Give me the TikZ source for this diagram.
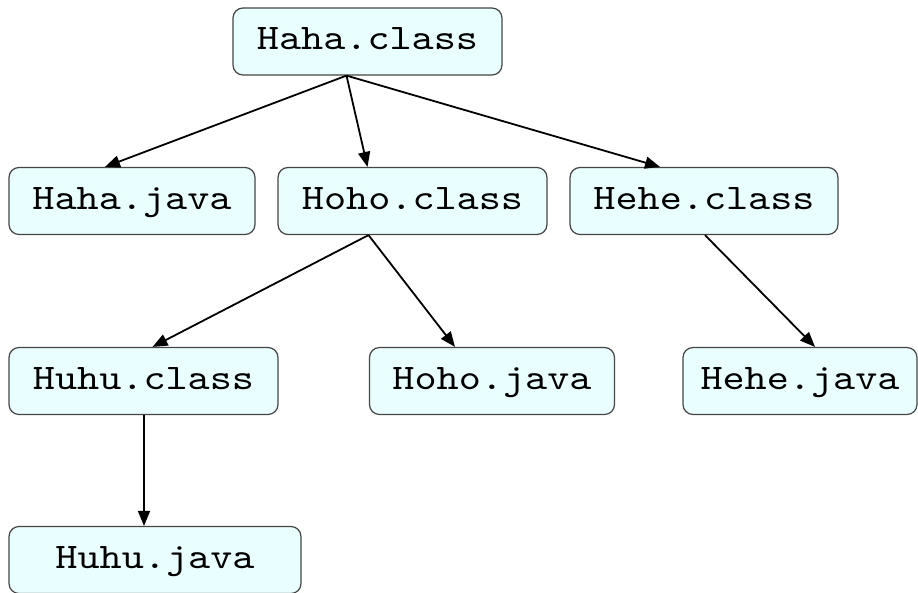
\documentclass[tikz,border=0pt]{standalone}
\usepackage{fontspec}
\setmonofont{lmmono10-regular.otf}[FakeStretch=1.17]
\usetikzlibrary{arrows.meta,positioning}

\definecolor{boxfill}{HTML}{E9FEFE}
\definecolor{boxline}{HTML}{454545}

\tikzset{
  filebox/.style={draw=boxline, line width=1.2pt, fill=boxfill, rounded corners=10pt,
    minimum height=67pt, inner sep=0pt, text height=20pt, text depth=4pt,
    font=\fontsize{36}{40}\selectfont\ttfamily},
  edge/.style={line width=1.8pt, -{Triangle[length=15pt,width=12pt]}}
}

\begin{document}
\begin{tikzpicture}[x=1pt,y=-1pt]
  \useasboundingbox (0,0) rectangle (918,592);

  % top level
  \node[filebox, minimum width=269pt] (hahaClass) at (367.5,41.5) {Haha.class};

  % second row
  \node[filebox, minimum width=246pt] (hahaJava) at (132,201) {Haha.java};
  \node[filebox, minimum width=269pt] (hohoClass) at (412.5,201) {Hoho.class};
  \node[filebox, minimum width=268pt] (heheClass) at (704,201) {Hehe.class};

  % third row
  \node[filebox, minimum width=269pt] (huhuClass) at (143.5,381) {Huhu.class};
  \node[filebox, minimum width=245pt] (hohoJava) at (492,381) {Hoho.java};
  \node[filebox, minimum width=234pt] (heheJava) at (800,381) {Hehe.java};

  % bottom
  \node[filebox, minimum width=292pt] (huhuJava) at (155,560) {Huhu.java};

  % edges
  \draw[edge] ([xshift=-21pt]hahaClass.south) -- ([xshift=-27pt]hahaJava.north);
  \draw[edge] ([xshift=-21pt]hahaClass.south) -- ([xshift=-45pt]hohoClass.north);
  \draw[edge] ([xshift=-21pt]hahaClass.south) -- ([xshift=-44pt]heheClass.north);
  \draw[edge] ([xshift=-44pt]hohoClass.south) -- ([xshift=9pt]huhuClass.north);
  \draw[edge] ([xshift=-44pt]hohoClass.south) -- ([xshift=-37pt]hohoJava.north);
  \draw[edge] ([xshift=1pt]heheClass.south) -- ([xshift=15pt]heheJava.north);
  \draw[edge] ([xshift=0.5pt]huhuClass.south) -- ([xshift=-11pt]huhuJava.north);
\end{tikzpicture}
\end{document}
